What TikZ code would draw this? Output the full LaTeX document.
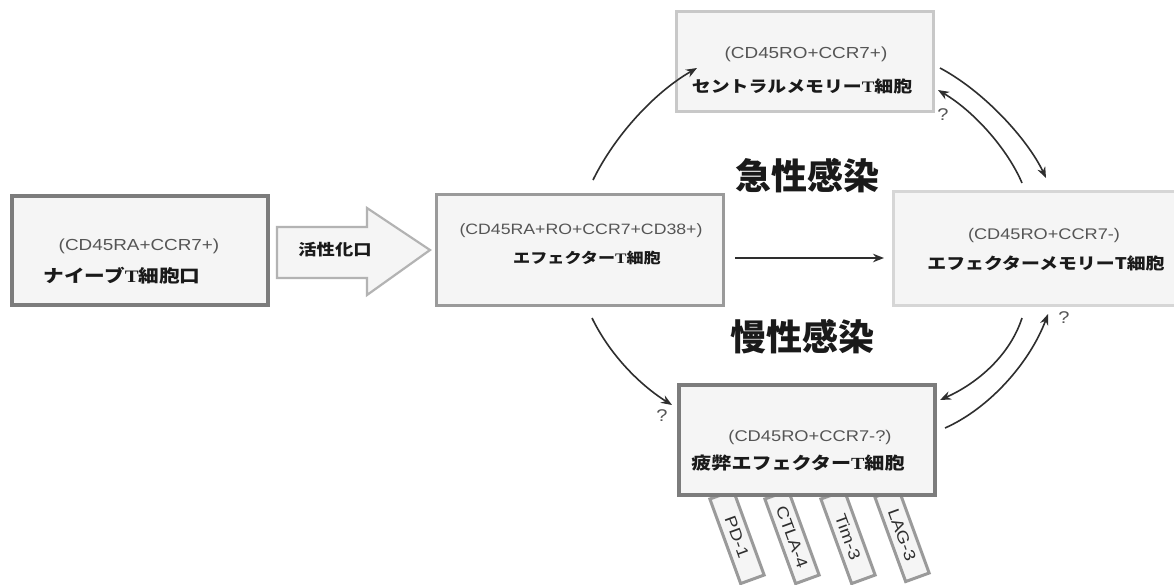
\documentclass[tikz,border=0pt]{standalone}
\usepackage{fontspec}
\setmainfont{Liberation Sans}[FakeStretch=1.18]
\newfontfamily\jp{Noto Sans CJK JP}[FakeStretch=1.18]
\newfontfamily\jpbig{Noto Sans CJK JP}
\newfontfamily\tser{Liberation Serif}[FakeStretch=1.18]
\usetikzlibrary{arrows.meta}
\newcommand\myfs[1]{\fontsize{#1}{#1}\selectfont}
\definecolor{bdark}{HTML}{7C7C7C}
\definecolor{bmid}{HTML}{9A9A9A}
\definecolor{blight}{HTML}{C8C8C8}
\definecolor{bvlight}{HTML}{D6D6D6}
\definecolor{cellfill}{HTML}{F5F5F5}
\definecolor{subtxt}{HTML}{555555}
\definecolor{maintxt}{HTML}{1A1A1A}
\definecolor{arrowc}{HTML}{2E2E2E}
\begin{document}
\begin{tikzpicture}[x=1pt,y=-1pt,
  cell/.style={draw, rectangle, inner sep=0pt, fill=cellfill},
  sub/.style={inner sep=0pt, text=subtxt, font=\myfs{#1}},
  jname/.style={inner sep=0pt, text=maintxt, font=\jp\bfseries\myfs{#1}},
  big/.style={inner sep=0pt, text=maintxt, font=\jpbig\bfseries\myfs{36}},
  qm/.style={inner sep=0pt, text=subtxt, font=\myfs{17}},
  receptor/.style={draw=bmid, line width=3pt, fill=cellfill, rectangle, rotate=-70,
     minimum width=90pt, minimum height=25pt, inner sep=0pt},
  rlabel/.style={inner sep=0pt, rotate=-70, text=arrowc, font=\myfs{16}},
  conn/.style={draw=arrowc, line width=1.6pt, -{Stealth[length=11pt,width=8.5pt]}}
]
\clip (0,0) rectangle (1174,584);
\fill[white] (0,0) rectangle (1174,584);

% receptors (behind exhausted cell)
\node[receptor] (pd1)  at (737,537) {};
\node[receptor] (ctla) at (792,537) {};
\node[receptor] (tim)  at (848,537) {};
\node[receptor] (lag)  at (902,535) {};
\node[rlabel] (pd1t)  at (pd1)  {PD-1};
\node[rlabel] (ctlat) at (ctla) {CTLA-4};
\node[rlabel] (timt)  at (tim)  {Tim-3};
\node[rlabel] (lagt)  at (lag)  {LAG-3};

% cells
\node[cell, draw=bdark, line width=4pt, minimum width=256pt, minimum height=109pt] (naive) at (140,250.5) {};
\node[cell, draw=bmid, line width=3.5pt, minimum width=287pt, minimum height=111pt] (eff) at (580,250) {};
\node[cell, draw=blight, line width=3.5pt, minimum width=257pt, minimum height=100pt] (cm) at (805,61.5) {};
\node[cell, draw=bvlight, line width=3.5pt, minimum width=305pt, minimum height=114pt] (em) at (1046,248.5) {};
\node[cell, draw=bdark, line width=4pt, minimum width=256pt, minimum height=110pt] (ex) at (807,440) {};

% texts in cells
\node[sub=16] (naiveA) at (139,246) {(CD45RA+CCR7+)};
\node[jname=17.5] (naiveB) at (122,276) {ナイーブ{\tser T}細胞口};
\node[sub=15] (effA) at (581,231) {(CD45RA+RO+CCR7+CD38+)};
\node[jname=14.5] (effB) at (587,258) {エフェクター{\tser T}細胞};
\node[sub=16] (cmA) at (806,54) {(CD45RO+CCR7+)};
\node[jname=16] (cmB) at (802,86) {セントラルメモリー{\tser T}細胞};
\node[sub=15.4] (emA) at (1044,236) {(CD45RO+CCR7-)};
\node[jname=16] (emB) at (1046,263) {エフェクターメモリーT細胞};
\node[sub=15.5] (exA) at (810,437) {(CD45RO+CCR7-?)};
\node[jname=17] (exB) at (798,463) {疲弊エフェクター{\tser T}細胞};

% block arrow
\draw[draw=bmid!75, line width=2.2pt, fill=cellfill, line join=miter]
  (277,227) -- (367,227) -- (367,208) -- (430,250) -- (367,295) -- (367,278) -- (277,278) -- cycle;
\node[jname=15.5] (act) at (335,250) {活性化口};

% big labels
\node[big] (acute) at (807,176) {急性感染};
\node[big] (chronic) at (802,337) {慢性感染};

% connector end points
\coordinate (e1s) at (593,180);  \coordinate (e1t) at (697,68);
\coordinate (e2s) at (592,318);  \coordinate (e2t) at (672,405);
\coordinate (e3s) at (735,258);  \coordinate (e3t) at (884,258);
\coordinate (c1s) at (940,68);   \coordinate (c1t) at (1046,178);
\coordinate (m1s) at (1022,183); \coordinate (m1t) at (938,90);
\coordinate (m2s) at (1022,318); \coordinate (m2t) at (940,400);
\coordinate (x1s) at (945,428);  \coordinate (x1t) at (1048,314);

\draw[conn] (e1s) .. controls (615,135) and (655,92) .. (e1t);
\draw[conn] (e2s) .. controls (610,355) and (640,385) .. (e2t);
\draw[conn] (e3s) -- (e3t);
\draw[conn] (c1s) .. controls (985,92) and (1028,140) .. (c1t);
\draw[conn] (m1s) .. controls (1008,150) and (975,112) .. (m1t);
\draw[conn] (m2s) .. controls (1010,355) and (978,383) .. (m2t);
\draw[conn] (x1s) .. controls (990,408) and (1030,362) .. (x1t);

\node[qm] (q1) at (662,416) {?};
\node[qm] (q2) at (943,115) {?};
\node[qm] (q3) at (1064,318) {?};
\end{tikzpicture}
\end{document}
